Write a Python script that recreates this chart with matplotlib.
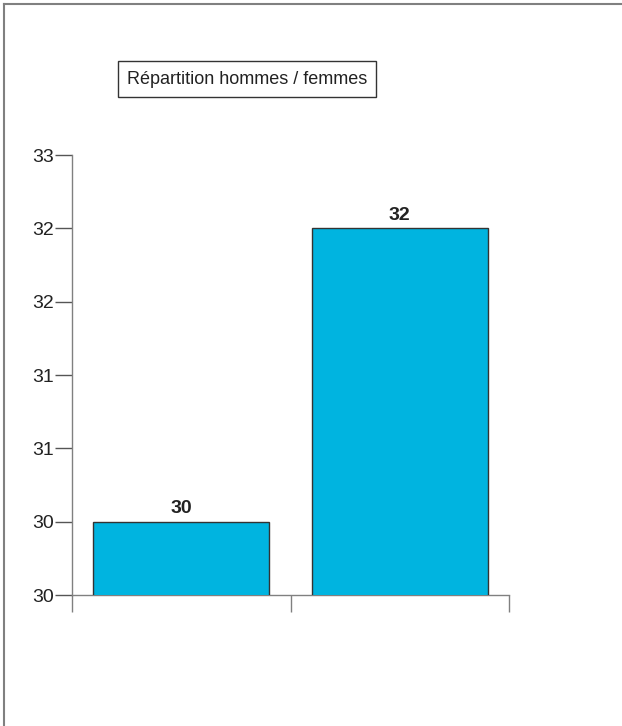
import matplotlib
matplotlib.use("Agg")
import matplotlib.pyplot as plt
from matplotlib.lines import Line2D
from matplotlib.ticker import FuncFormatter

# data
categories = ["Hommes", "Femmes"]
values = [30.5, 32.5]
y_ticks = [30.0, 30.5, 31.0, 31.5, 32.0, 32.5, 33.0]

plt.rcParams["font.family"] = ["Liberation Sans", "DejaVu Sans"]

W, H = 622, 726
fig = plt.figure(figsize=(W / 100, H / 100), dpi=100)

# axes box in pixels: x 72..509, y 155..595
ax = fig.add_axes([72 / W, 1 - 595 / H, (509 - 72) / W, (595 - 155) / H])

x = list(range(len(categories)))
ax.bar(x, values, width=0.805, bottom=0, color="#00B4E0", edgecolor="#333333",
       linewidth=1.0, zorder=3)
for xi, v in zip(x, values):
    ax.text(xi, v + 0.03, str(int(v)), ha="center", va="bottom",
            fontsize=14, fontweight="bold", color="#222222")

ax.set_xlim(-0.5, len(categories) - 0.5)
ax.set_ylim(30, 33)
ax.set_yticks(y_ticks)
ax.yaxis.set_major_formatter(FuncFormatter(lambda v, p: str(int(v))))
ax.set_xticks([-0.5, 0.5, 1.5])
ax.set_xticklabels([])

for s in ["top", "right"]:
    ax.spines[s].set_visible(False)
for s in ["left", "bottom"]:
    ax.spines[s].set_color("#808080")
    ax.spines[s].set_linewidth(1.0)
ax.spines["left"].set_bounds(30, 33)

ax.tick_params(axis="y", length=12, width=1, color="#555555", labelsize=14,
               labelcolor="#222222", pad=1)
ax.tick_params(axis="x", length=12, width=1, color="#808080")

# title box
fig.text(247 / W, 1 - 79 / H, "Répartition hommes / femmes", ha="center",
         va="center", fontsize=13, color="#222222",
         bbox=dict(boxstyle="square,pad=0.5", facecolor="white",
                   edgecolor="#333333", linewidth=1.0))

# frame lines top and left
fig.add_artist(Line2D([3.5 / W, 3.5 / W], [0, 1 - 3.5 / H], color="#808080",
                      linewidth=1.5, transform=fig.transFigure))
fig.add_artist(Line2D([3.5 / W, 1], [1 - 3.5 / H, 1 - 3.5 / H], color="#808080",
                      linewidth=1.5, transform=fig.transFigure))

fig.savefig("out.png", dpi=100, facecolor="white")
